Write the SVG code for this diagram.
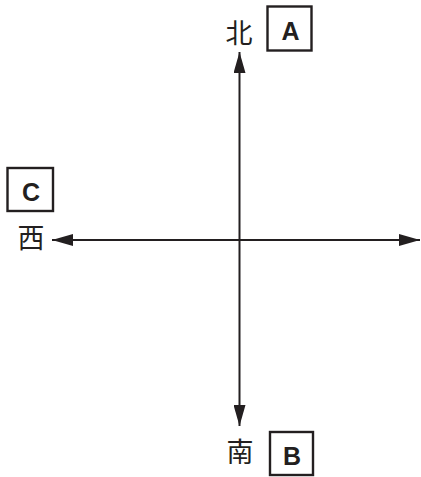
<svg xmlns="http://www.w3.org/2000/svg" width="421" height="477" viewBox="0 0 421 477">
<style>
.box{fill:#fff;stroke:#231f20;stroke-width:2.4}
.lbl{font-family:"Liberation Sans",Arial,sans-serif;font-weight:bold;font-size:25px;fill:#231f20;text-anchor:middle}
.cjk{font-family:"Noto Sans CJK SC","Noto Sans CJK JP",sans-serif;font-size:27px;fill:#231f20;text-anchor:middle}
.ax{stroke:#231f20;stroke-width:2;fill:none;marker-end:url(#ah)}
</style>
<defs>
<marker id="ah" markerWidth="21" markerHeight="12" refX="21" refY="6" orient="auto" markerUnits="userSpaceOnUse">
<path d="M0,0 L21,6 L0,12 Z" fill="#231f20"/>
</marker>
</defs>
<rect width="421" height="477" fill="#fff"/>
<g id="connectors">
<line class="ax" x1="239.5" y1="240" x2="239.5" y2="52"/>
<line class="ax" x1="239.5" y1="240" x2="239.5" y2="426"/>
<line class="ax" x1="239.5" y1="240" x2="52" y2="240"/>
<line class="ax" x1="239.5" y1="240" x2="420" y2="240"/>
</g>
<g id="north">
<text class="cjk" x="239" y="43">北</text>
</g>
<g id="nodeA">
<rect class="box" x="267.5" y="6.5" width="44" height="44"/>
<text class="lbl" x="290.5" y="40">A</text>
</g>
<g id="west">
<text class="cjk" x="31" y="248">西</text>
</g>
<g id="nodeC">
<rect class="box" x="7.5" y="168" width="45.5" height="43"/>
<text class="lbl" x="31" y="201">C</text>
</g>
<g id="south">
<text class="cjk" x="240" y="462">南</text>
</g>
<g id="nodeB">
<rect class="box" x="270" y="432" width="43" height="43"/>
<text class="lbl" x="292" y="465">B</text>
</g>
</svg>
